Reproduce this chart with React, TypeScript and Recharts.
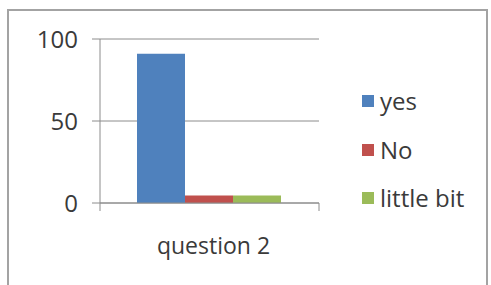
import { BarChart, Bar, XAxis, YAxis, CartesianGrid } from "recharts";

// values
const categories = ["question 2"];
const seriesKeys = ["yes", "no", "littleBit"];
const seriesNames = ["yes", "No", "little bit"];
const yesValues = [91];
const noValues = [4.6];
const littleBitValues = [4.6];
const yTicks = [0, 50, 100];

const seriesColors = ["#4F81BD", "#C0504D", "#9BBB59"];
const axisColor = "#8c8c8c";
const textColor = "#3a3a3a";
const font = "'Open Sans', sans-serif";

const data = categories.map((name, i) => ({
  name,
  yes: yesValues[i],
  no: noValues[i],
  littleBit: littleBitValues[i],
}));

// category label plus the tick marks on the category boundaries (Excel style)
function CategoryTick(props: any) {
  const { x, y, payload } = props;
  const half = payload.offset ?? 0;
  return (
    <g>
      <line x1={x - half} x2={x - half} y1={y - 8} y2={y} stroke={axisColor} />
      <line x1={x + half} x2={x + half} y1={y - 8} y2={y} stroke={axisColor} />
      <text x={x + 4} y={y + 43} textAnchor="middle" fontSize={23} fontFamily={font} fill={textColor}>
        {payload.value}
      </text>
    </g>
  );
}

export default function App() {
  return (
    <div style={{ position: "fixed", left: 0, top: 0, width: 491, height: 285, background: "#fff", overflow: "hidden" }}>
      <div
        style={{
          position: "absolute",
          left: 7,
          top: 9,
          width: 481,
          height: 300,
          border: "2px solid #a3a3a3",
          boxSizing: "border-box",
        }}
      />
      <BarChart
        width={491}
        height={285}
        data={data}
        margin={{ top: 39, right: 172, bottom: 52, left: 0 }}
        barGap={0}
        barCategoryGap={37}
        style={{ position: "absolute", left: 0, top: 0 }}
      >
        <CartesianGrid vertical={false} stroke={axisColor} />
        <XAxis
          dataKey="name"
          height={30}
          tickLine={false}
          tickSize={8}
          tickMargin={0}
          stroke={axisColor}
          tick={<CategoryTick />}
        />
        <YAxis
          width={100}
          domain={[0, 100]}
          ticks={yTicks}
          tickSize={8}
          tickMargin={14}
          stroke={axisColor}
          tick={{ fontSize: 24, fill: textColor, fontFamily: font }}
        />
        {seriesKeys.map((k, i) => (
          <Bar key={k} dataKey={k} name={seriesNames[i]} fill={seriesColors[i]} isAnimationActive={false} />
        ))}
      </BarChart>
      <div style={{ position: "absolute", left: 362, top: 77 }}>
        {seriesNames.map((n, i) => (
          <div key={n} style={{ display: "flex", alignItems: "center", height: 48.5 }}>
            <span style={{ width: 12, height: 12, background: seriesColors[i], display: "inline-block", marginRight: 6 }} />
            <span style={{ fontSize: 24, fontFamily: font, color: textColor, lineHeight: 1 }}>{n}</span>
          </div>
        ))}
      </div>
    </div>
  );
}
